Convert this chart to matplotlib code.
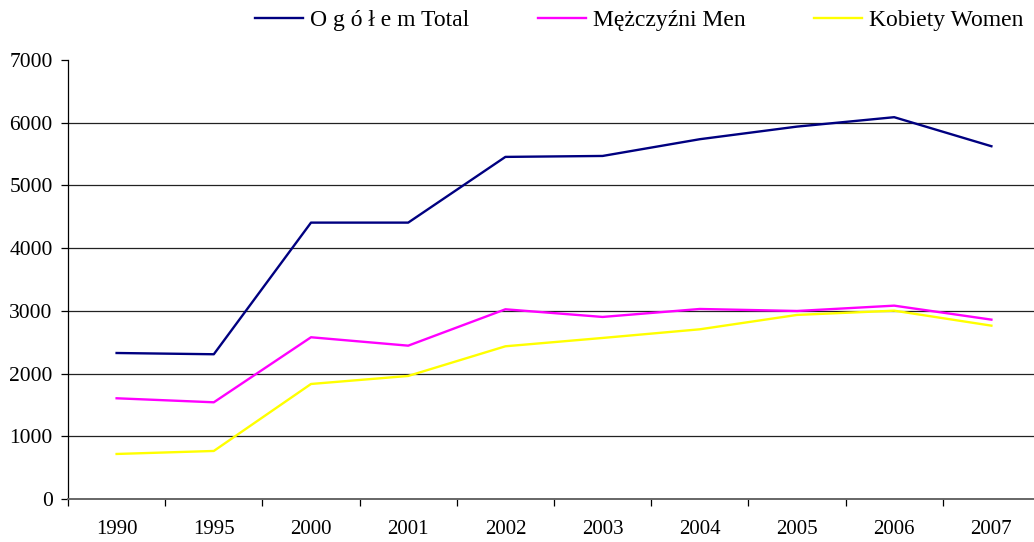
import matplotlib
matplotlib.use("Agg")
import matplotlib.pyplot as plt

years = ["1990", "1995", "2000", "2001", "2002", "2003", "2004", "2005", "2006", "2007"]
total = [2328, 2308, 4407, 4407, 5455, 5470, 5737, 5938, 6088, 5625]
men = [1606, 1542, 2579, 2445, 3025, 2903, 3030, 2998, 3083, 2860]
women = [718, 766, 1834, 1962, 2435, 2568, 2706, 2935, 3003, 2764]
series_labels = ["O g ó ł e m Total", "Mężczyźni Men", "Kobiety Women"]
colors = ["#000080", "#FF00FF", "#FFFF00"]

plt.rcParams["font.family"] = ["Liberation Serif", "DejaVu Serif"]

fig = plt.figure(figsize=(10.34, 5.42), dpi=100)
W, H = 1034, 542
left, right, top, bottom = 68, 1040, 60, 499
ax = fig.add_axes([left / W, (H - bottom) / H, (right - left) / W, (bottom - top) / H])

x = list(range(len(years)))
for vals, lab, c in zip([total, men, women], series_labels, colors):
    ax.plot(x, vals, color=c, linewidth=1.7, label=lab)

ax.set_xlim(-0.5, len(years) - 0.5)
ax.set_ylim(0, 7000)
ax.set_yticks(range(0, 7001, 1000))
for yv in range(1000, 7000, 1000):
    ax.axhline(yv, color="#222222", linewidth=0.9, zorder=0)

ax.set_xticks([i - 0.5 for i in range(len(years) + 1)])
ax.set_xticklabels([])
ax.set_xticks(x, minor=True)
ax.set_xticklabels(years, minor=True, fontsize=15)
ax.tick_params(axis="x", which="major", direction="out", length=5, width=0.9)
ax.tick_params(axis="x", which="minor", length=0, pad=15)
ax.tick_params(axis="y", direction="out", length=5, width=0.9, pad=6, labelsize=15.5)

for s in ["top", "right"]:
    ax.spines[s].set_visible(False)
ax.spines["left"].set_linewidth(0.9)
ax.spines["bottom"].set_color("#666666")
ax.spines["bottom"].set_linewidth(1.4)

fig.legend(loc="center", bbox_to_anchor=(0.618, 1 - 20 / H), ncol=3, frameon=False,
           handlelength=2.03, handletextpad=0.3, columnspacing=2.9, fontsize=17)

fig.savefig("out.png", dpi=100)
